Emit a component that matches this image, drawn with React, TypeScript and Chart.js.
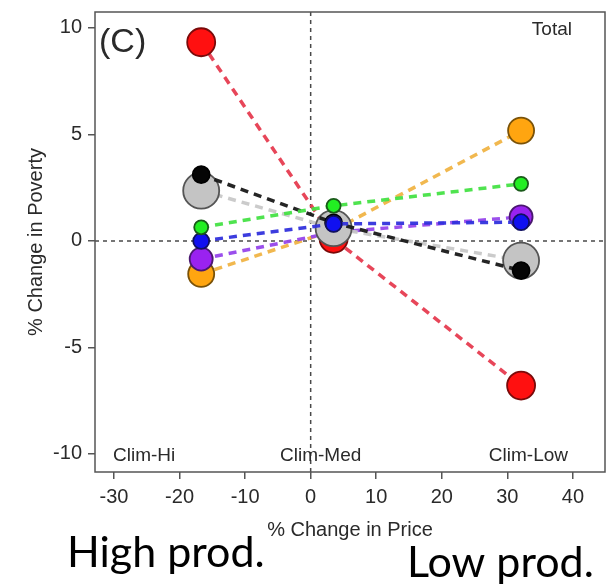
import React, { useEffect, useRef } from "react";
import { Chart, registerables } from "chart.js";

Chart.register(...registerables);

// ---------- data ----------
const scenarioLabels = ["Clim-Hi", "Clim-Med", "Clim-Low"];
const priceChange = [-16.7, 3.5, 32.1];

const greenValues = [0.64, 1.65, 2.68];
const blueValues = [0.0, 0.8, 0.88];
const blackValues = [3.11, 0.85, -1.39];
const grayValues = [2.36, 0.6, -0.92];
const purpleValues = [-0.85, 0.4, 1.13];
const orangeValues = [-1.55, 0.5, 5.18];
const redValues = [9.33, 0.1, -6.79];

const xTicks = [-30, -20, -10, 0, 10, 20, 30, 40];
const yTicks = [-10, -5, 0, 5, 10];

const panelLabel = "(C)";
const groupLabel = "Total";
const xTitle = "% Change in Price";
const yTitle = "% Change in Poverty";
const bottomLabels = ["High prod.", "Low prod."];

// ---------- styles ----------
const FONT = "'Liberation Sans', Arial, sans-serif";
const TEXT = "#2a2a2a";

const seriesStyle = [
  { values: greenValues, fill: "#22ee22", border: "#1a5a1a", line: "rgba(70,225,70,0.95)", r: 7 },
  { values: blueValues, fill: "#1010f0", border: "#101060", line: "rgba(50,50,220,0.95)", r: 8 },
  { values: blackValues, fill: "#050505", border: "#000000", line: "rgba(25,25,25,0.95)", r: 8.5 },
  { values: grayValues, fill: "#c4c4c4", border: "#555555", line: "rgba(200,200,200,0.95)", r: 18 },
  { values: purpleValues, fill: "#9a22f0", border: "#4a1870", line: "rgba(150,70,235,0.95)", r: 11.5 },
  { values: orangeValues, fill: "#ffa510", border: "#7a5208", line: "rgba(240,180,70,0.95)", r: 13 },
  { values: redValues, fill: "#ff1010", border: "#7a0a0a", line: "rgba(230,60,80,0.95)", r: 14 },
];

const decorPlugin = {
  id: "decor",
  beforeDatasetsDraw(chart: any) {
    const { ctx, chartArea: a, scales } = chart;
    const x0 = scales.x.getPixelForValue(0);
    const y0 = scales.y.getPixelForValue(0);
    ctx.save();
    ctx.strokeStyle = "#4a4a4a";
    ctx.lineWidth = 1.5;
    ctx.setLineDash([4, 4]);
    ctx.beginPath();
    ctx.moveTo(a.left, y0);
    ctx.lineTo(a.right, y0);
    ctx.moveTo(x0, a.top);
    ctx.lineTo(x0, a.bottom);
    ctx.stroke();
    ctx.restore();
  },
  afterDraw(chart: any) {
    const { ctx, chartArea: a, scales } = chart;
    ctx.save();
    // plot box
    ctx.strokeStyle = "#555";
    ctx.lineWidth = 1.5;
    ctx.setLineDash([]);
    ctx.strokeRect(a.left, a.top, a.right - a.left, a.bottom - a.top);

    ctx.fillStyle = TEXT;
    ctx.textBaseline = "middle";
    ctx.font = `34px ${FONT}`;
    ctx.textAlign = "left";
    ctx.fillText(panelLabel, a.left + 4, a.top + 31);

    ctx.font = `19px ${FONT}`;
    ctx.textAlign = "right";
    ctx.fillText(groupLabel, a.right - 33, a.top + 18);

    const ly = a.bottom - 16;
    ctx.textAlign = "left";
    ctx.fillText(scenarioLabels[0], a.left + 18, ly);
    ctx.textAlign = "center";
    ctx.fillText(scenarioLabels[1], scales.x.getPixelForValue(0) + 10, ly);
    ctx.textAlign = "right";
    ctx.fillText(scenarioLabels[2], a.right - 37, ly);

    // bottom annotations
    ctx.fillStyle = "#000";
    ctx.textBaseline = "alphabetic";
    ctx.textAlign = "left";
    ctx.font = `43px Lato, 'Open Sans', sans-serif`;
    ctx.fillText(bottomLabels[0], 67, 567);
    ctx.fillText(bottomLabels[1], 407, 577);
    ctx.restore();
  },
};

export default function App() {
  const ref = useRef<HTMLCanvasElement | null>(null);

  useEffect(() => {
    if (!ref.current) return;
    const datasets = seriesStyle.map((s) => ({
      data: priceChange.map((x, i) => ({ x, y: s.values[i] })),
      showLine: true,
      borderColor: s.line,
      borderWidth: 3.5,
      borderDash: [8, 6],
      pointRadius: s.r,
      pointHoverRadius: s.r,
      pointBackgroundColor: s.fill,
      pointBorderColor: s.border,
      pointBorderWidth: 1.8,
    }));

    const chart = new Chart(ref.current, {
      type: "scatter",
      data: { datasets },
      options: {
        responsive: false,
        animation: false,
        layout: { autoPadding: false, padding: { top: 12, right: 5, left: 0, bottom: 0 } },
        plugins: { legend: { display: false }, tooltip: { enabled: false } },
        scales: {
          x: {
            type: "linear",
            min: -32.9,
            max: 44.9,
            afterBuildTicks: (s: any) => {
              s.ticks = xTicks.map((v) => ({ value: v }));
            },
            afterFit: (s: any) => {
              s.height = 115;
              s.paddingLeft = 0;
              s.paddingRight = 0;
            },
            grid: { drawOnChartArea: false, drawTicks: true, tickLength: 7, color: "#555", lineWidth: 1.5 },
            border: { display: false },
            ticks: {
              font: { family: FONT, size: 20 },
              color: TEXT,
              padding: 6,
              maxRotation: 0,
              autoSkip: false,
            },
            title: {
              display: true,
              text: xTitle,
              font: { family: FONT, size: 20 },
              color: TEXT,
              padding: { top: 0, bottom: 45 },
            },
          },
          y: {
            type: "linear",
            min: -10.85,
            max: 10.75,
            afterBuildTicks: (s: any) => {
              s.ticks = yTicks.map((v) => ({ value: v }));
            },
            afterFit: (s: any) => {
              s.width = 95;
              s.paddingTop = 0;
              s.paddingBottom = 0;
            },
            grid: { drawOnChartArea: false, drawTicks: true, tickLength: 7, color: "#555", lineWidth: 1.5 },
            border: { display: false },
            ticks: {
              font: { family: FONT, size: 20 },
              color: TEXT,
              padding: 6,
              autoSkip: false,
            },
            title: {
              display: true,
              text: yTitle,
              font: { family: FONT, size: 20 },
              color: TEXT,
              padding: { top: 24, bottom: 0 },
            },
          },
        },
      },
      plugins: [decorPlugin],
    });
    return () => chart.destroy();
  }, []);

  return (
    <div style={{ position: "absolute", left: 0, top: 0, width: 610, height: 587, background: "#fff" }}>
      <canvas ref={ref} width={610} height={587} style={{ display: "block" }} />
    </div>
  );
}
